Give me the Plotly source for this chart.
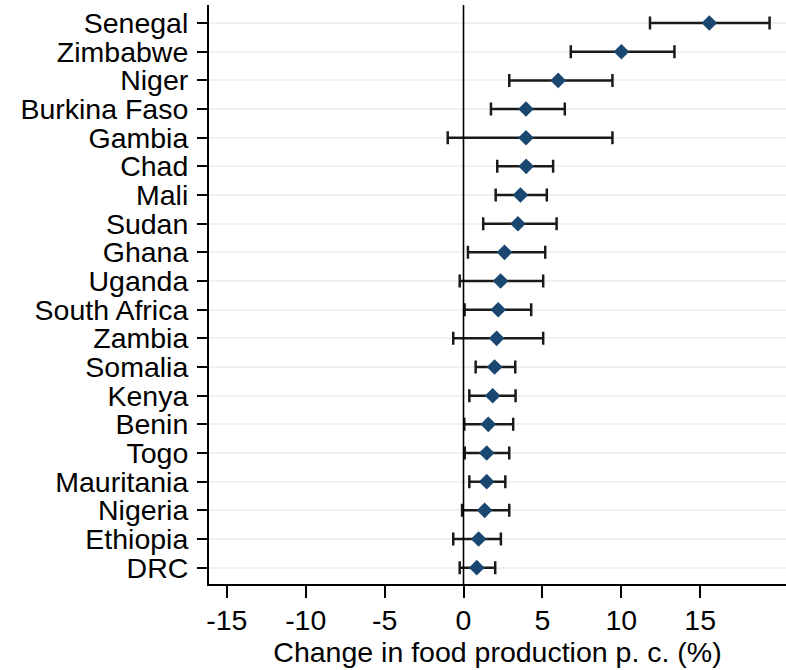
import plotly.graph_objects as go

countries = ["Senegal", "Zimbabwe", "Niger", "Burkina Faso", "Gambia", "Chad", "Mali",
             "Sudan", "Ghana", "Uganda", "South Africa", "Zambia", "Somalia", "Kenya",
             "Benin", "Togo", "Mauritania", "Nigeria", "Ethiopia", "DRC"]
estimate = [15.58, 10.01, 6.00, 3.96, 3.96, 3.97, 3.61, 3.45, 2.60, 2.35, 2.20, 2.10, 1.97,
            1.85, 1.57, 1.47, 1.47, 1.34, 0.96, 0.84]
ci_low = [11.82, 6.80, 2.90, 1.74, -1.00, 2.14, 2.04, 1.25, 0.28, -0.24, 0.07, -0.65, 0.77,
          0.37, 0.05, 0.08, 0.37, -0.09, -0.65, -0.24]
ci_high = [19.40, 13.37, 9.44, 6.42, 9.44, 5.68, 5.28, 5.90, 5.18, 5.05, 4.29, 5.05, 3.28,
           3.30, 3.15, 2.90, 2.65, 2.90, 2.37, 2.01]
x_ticks = [-15, -10, -5, 0, 5, 10, 15]
x_title = "Change in food production p. c. (%)"

n = len(countries)
ypos = [n - 1 - i for i in range(n)]
err_plus = [h - e for h, e in zip(ci_high, estimate)]
err_minus = [e - l for e, l in zip(estimate, ci_low)]

fig = go.Figure()
fig.add_trace(go.Scatter(
    x=estimate, y=ypos, mode="markers",
    marker=dict(symbol="diamond", size=12, color="#1a476f"),
    error_x=dict(type="data", symmetric=False, array=err_plus, arrayminus=err_minus,
                 color="#1a1a1a", thickness=2.5, width=6.5),
    showlegend=False,
))

fig.add_vline(x=0, line=dict(color="black", width=1.6), layer="above")

font = "Liberation Sans, Arial, sans-serif"
fig.update_layout(
    width=786, height=670,
    margin=dict(l=209, r=0, t=5, b=86),
    paper_bgcolor="white", plot_bgcolor="white",
    font=dict(family=font, size=28.5, color="black"),
    xaxis=dict(
        range=[-16.13, 20.44], tickvals=x_ticks, ticktext=[str(v) for v in x_ticks],
        showgrid=False, zeroline=False, showline=True, linecolor="black", linewidth=2,
        ticks="outside", ticklen=12, tickwidth=2, tickcolor="black",
        title=dict(text=x_title, standoff=0, font=dict(size=28.5)),
        tickfont=dict(size=28.5), ticklabelstandoff=-2,
    ),
    yaxis=dict(
        range=[-0.57, 19.63], tickvals=ypos, ticktext=countries,
        showgrid=True, gridcolor="#eaf2f3", gridwidth=2,
        zeroline=False, showline=True, linecolor="black", linewidth=2,
        ticks="outside", ticklen=10, tickwidth=2, tickcolor="black",
        tickfont=dict(size=28.5), ticklabelstandoff=3,
    ),
)

fig.write_html("out.html", config={"displayModeBar": False},
               post_script="document.body.style.margin='0px';")
